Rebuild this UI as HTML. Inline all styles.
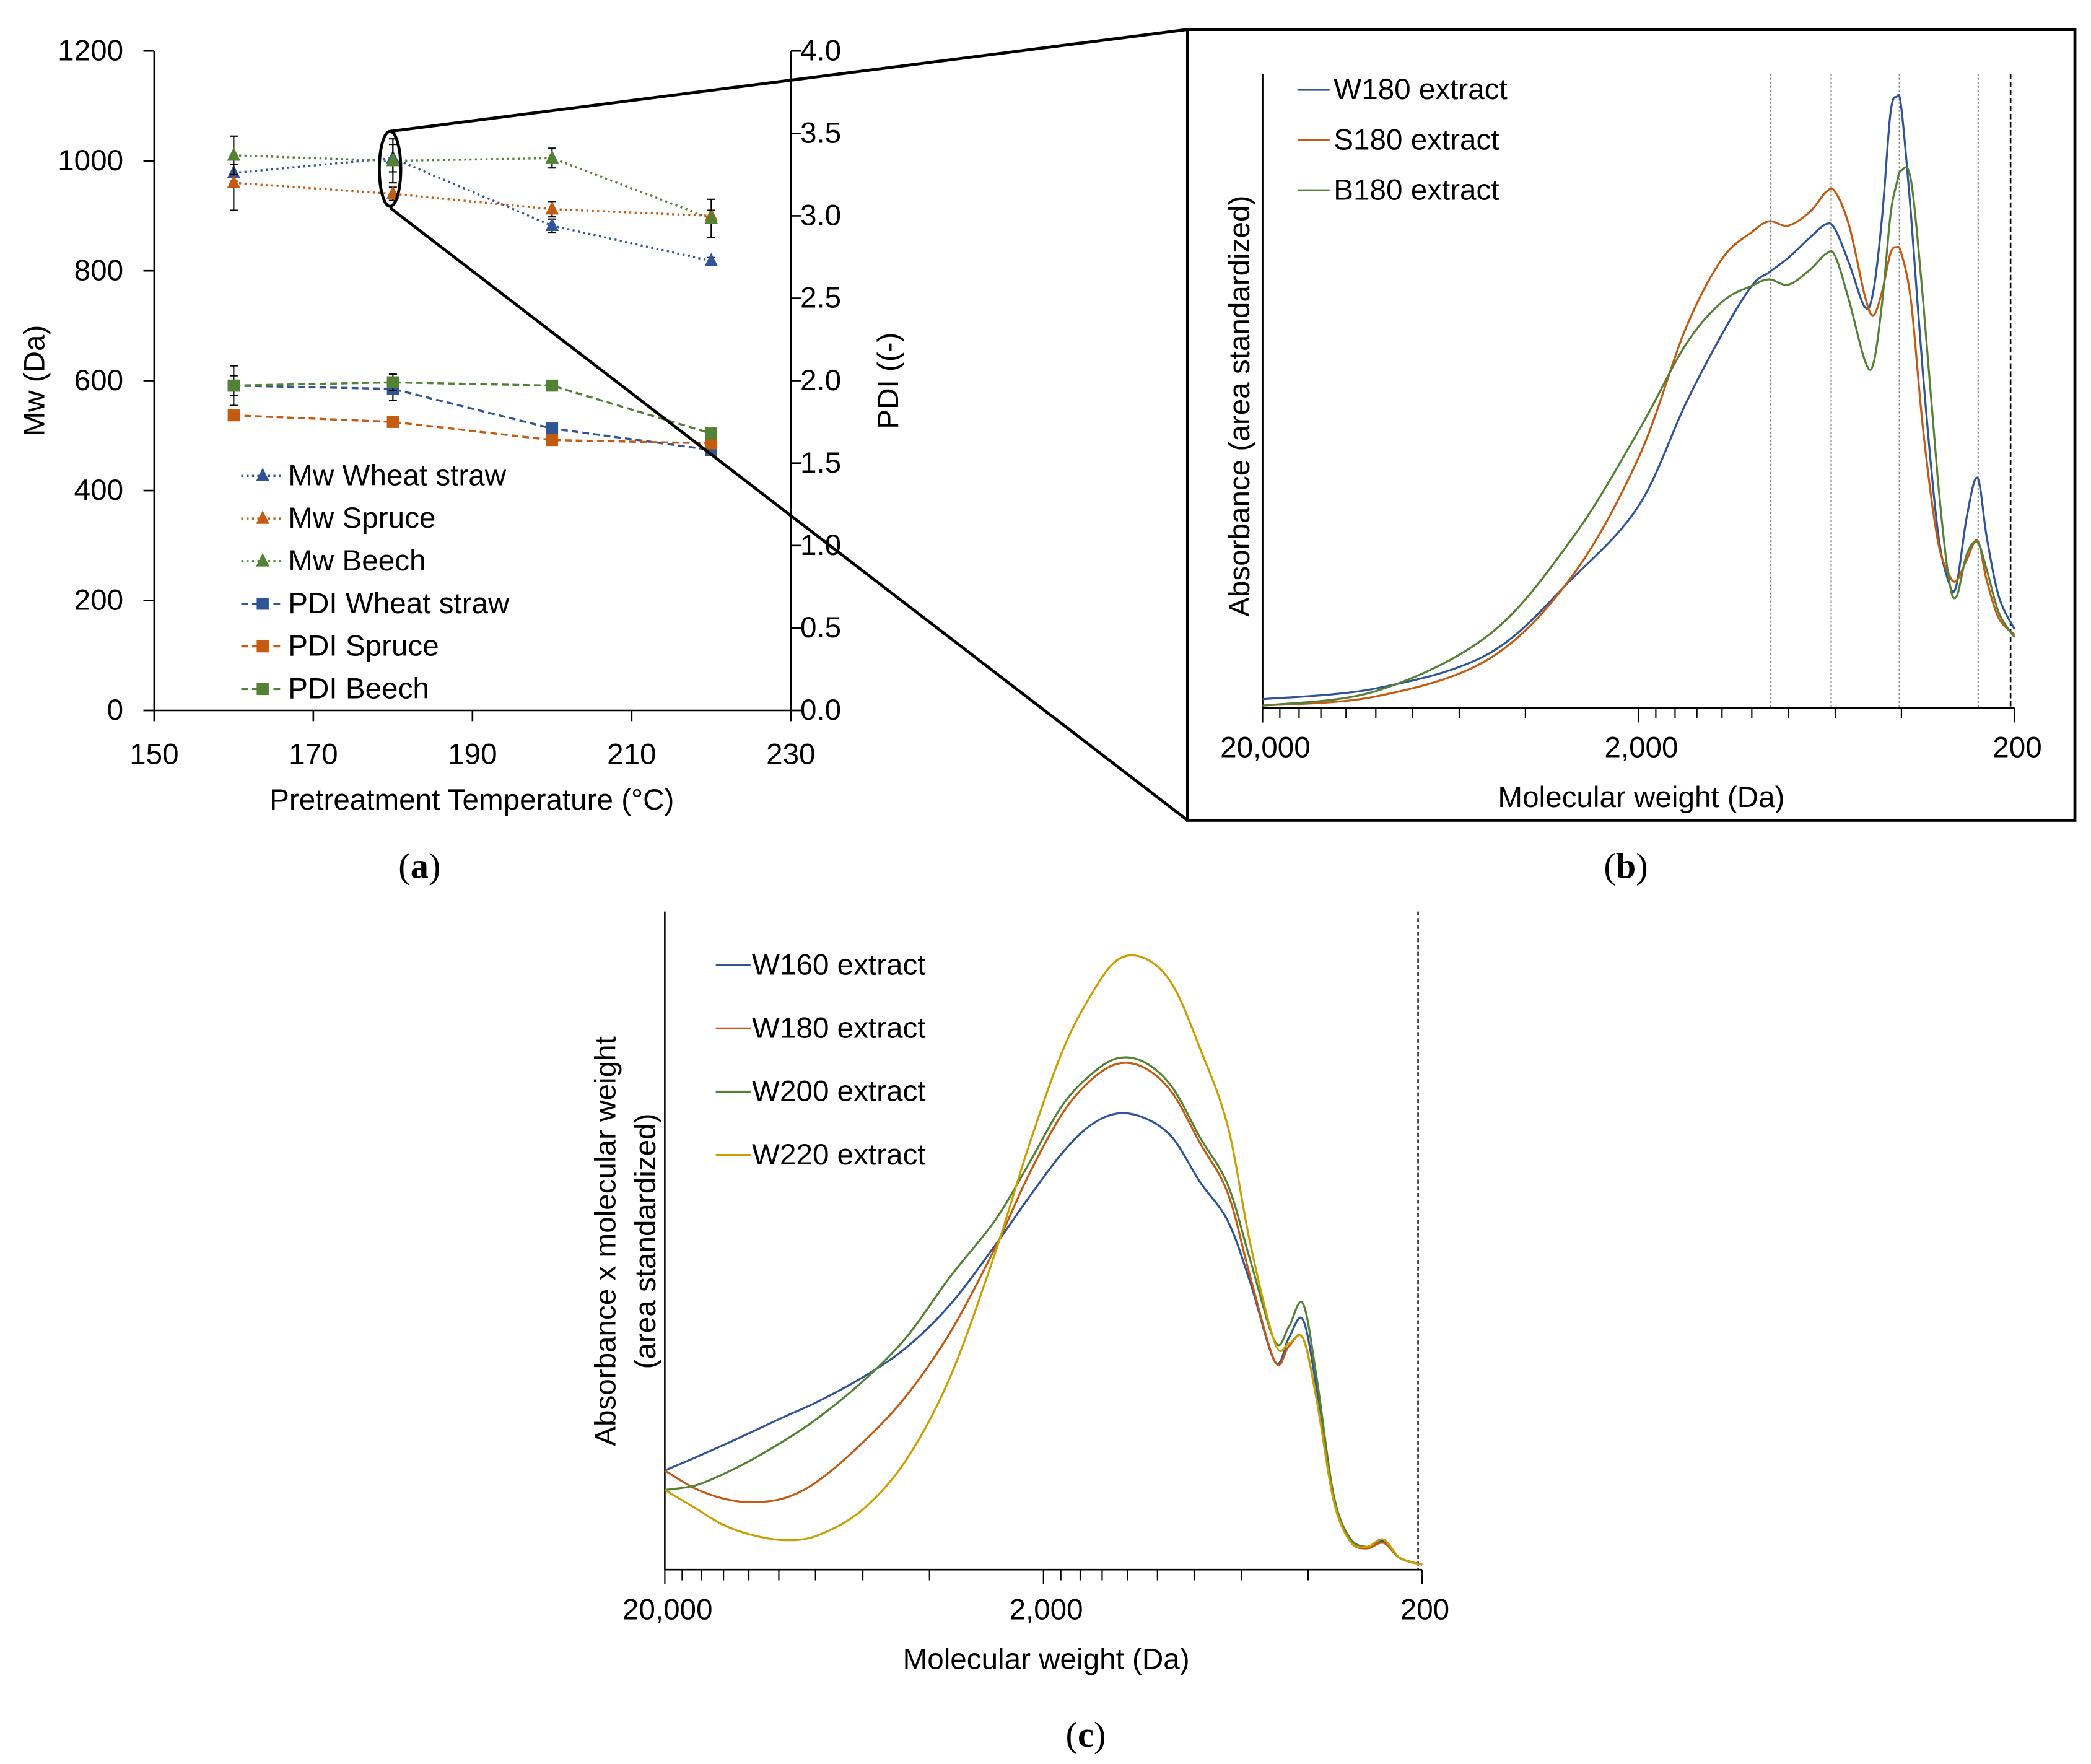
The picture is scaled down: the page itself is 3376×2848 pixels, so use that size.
<!DOCTYPE html>
<html><head><meta charset="utf-8"><style>
html,body{margin:0;padding:0;background:#fff;}
svg{display:block;font-family:"Liberation Sans","DejaVu Sans",sans-serif;}
</style></head><body>
<svg id="fig" xmlns="http://www.w3.org/2000/svg" width="3376" height="2848" viewBox="0 0 1560 1316" preserveAspectRatio="none">
<rect x="0" y="0" width="1560" height="1316" fill="#fff"/>
<g id="pa"></g>
<g id="pb"></g>
<g id="pc"></g>
</svg>
<script>
// ---------- Panel (a) data ----------
const tempA = [160, 180, 200, 220];
const mwWheat = [978, 1005, 882, 818];
const mwSpruce = [960, 940, 912, 900];
const mwBeech = [1010, 1000, 1005, 895];
const mwWheatErr = [15, 25, 12, 6];
const mwSpruceErr = [50, 12, 14, 10];
const mwBeechErr = [35, 40, 18, 35];
const pdiWheat = [1.97, 1.95, 1.71, 1.58];
const pdiSpruce = [1.79, 1.75, 1.64, 1.62];
const pdiBeech = [1.97, 1.99, 1.97, 1.68];
const pdiWheatErr = [0.06, 0.07, 0.03, 0.03];
const pdiSpruceErr = [0.03, 0.02, 0.03, 0.03];
const pdiBeechErr = [0.12, 0.05, 0.03, 0.02];
const mwTicks = [0, 200, 400, 600, 800, 1000, 1200];
const pdiTicks = ["0.0","0.5","1.0","1.5","2.0","2.5","3.0","3.5","4.0"];
const tempTicks = [150, 170, 190, 210, 230];

// ---------- Panel (b) data ----------
const mwB = [20000,10000,5000,3000,2000,1500,1200,1000,900,800,700,634,600,550,500,475,450,428,412,400,377,350,321,300,286,268,251,237,220,200];
const absW180 = [16,36,101,241,376,566,696,786,811,838,876,901,891,826,746,776,916,1106,1138,1116,916,616,336,236,226,356,428,316,206,146];
const absS180 = [4,21,91,246,466,706,836,886,906,898,924,961,961,896,766,731,776,846,858,846,756,516,316,251,236,276,311,236,166,136];
const absB180 = [4,31,136,316,516,676,756,786,798,788,816,846,841,756,646,641,756,916,976,1001,981,756,436,246,206,286,308,256,176,131];
const refLinesB = [890, 615, 405, 250];
const cutoffMW = 205;

// ---------- Panel (c) data ----------
const mwC = [20000,16670,14080,11890,9710,7930,6050,4620,3527,2692,2198,1795,1516,1281,1082,914,772,652,569,489,450,413,380,343,310,280,253,229,200];
const amW160 = [178,201,223,246,274,301,344,398,476,581,666,746,796,819,811,776,696,626,516,373,416,449,326,126,56,41,51,21,9];
const amW180 = [178,146,128,121,128,158,226,311,426,576,706,816,876,908,901,856,766,676,526,373,401,416,306,126,51,38,48,21,9];
const amW200 = [143,151,171,196,231,271,336,416,526,626,726,831,886,918,911,866,776,691,556,409,436,478,346,136,56,41,54,21,9];
const amW220 = [143,111,81,63,53,61,106,196,346,566,756,926,1026,1094,1098,1051,936,796,586,406,406,416,306,126,51,41,54,21,9];
const logTickMW = [20000,18000,16000,14000,12000,10000,8000,6000,4000,2000,1800,1600,1400,1200,1000,800,600,400,200];
const xTickLabels = ["20,000","2,000","200"];
const xTickLabelMW = [20000,2000,200];

const NS = "http://www.w3.org/2000/svg";
const FS = 22;
function mk(parent, tag, attrs, text){
  const e = document.createElementNS(NS, tag);
  for (const k in attrs) e.setAttribute(k, attrs[k]);
  if (text !== undefined) e.textContent = text;
  parent.appendChild(e);
  return e;
}
function smoothPath(pts){
  let d = "M" + pts[0][0].toFixed(2) + "," + pts[0][1].toFixed(2);
  for (let i = 0; i < pts.length - 1; i++){
    const p0 = pts[Math.max(0,i-1)], p1 = pts[i], p2 = pts[i+1], p3 = pts[Math.min(pts.length-1,i+2)];
    const c1x = p1[0] + (p2[0]-p0[0])/6, c1y = p1[1] + (p2[1]-p0[1])/6;
    const c2x = p2[0] - (p3[0]-p1[0])/6, c2y = p2[1] - (p3[1]-p1[1])/6;
    d += " C" + c1x.toFixed(2)+","+c1y.toFixed(2)+" "+c2x.toFixed(2)+","+c2y.toFixed(2)+" "+p2[0].toFixed(2)+","+p2[1].toFixed(2);
  }
  return d;
}
const BLUE="#2F5597", ORANGE="#C55A11", GREEN="#538135", GOLD="#C9A000";

// ================= Panel A =================
(function(){
  const g = document.getElementById('pa');
  const X0=115, X1=590, Y0=530, Y1=38;
  const xs = t => X0 + (t-150)/(230-150)*(X1-X0);
  const ys = v => Y0 - v/1200*(Y0-Y1);
  const yp = v => Y0 - v/4*(Y0-Y1);
  let e;
  e = mk(g,'line',{x1:X0,y1:Y1,x2:X0,y2:Y0,stroke:'#000','stroke-width':1.2});
   
  e = mk(g,'line',{x1:X1,y1:Y1,x2:X1,y2:Y0,stroke:'#000','stroke-width':1.2});
   
  e = mk(g,'line',{x1:X0-8,y1:Y0,x2:X1+8,y2:Y0,stroke:'#000','stroke-width':1.2});
   
  mwTicks.forEach(v=>{
    mk(g,'line',{x1:X0-8,y1:ys(v),x2:X0,y2:ys(v),stroke:'#000','stroke-width':1.2});
    e = mk(g,'text',{x:92,y:ys(v)+7,'text-anchor':'end','font-size':FS},String(v));
     
  });
  pdiTicks.forEach(v=>{
    const n = parseFloat(v);
    mk(g,'line',{x1:X1,y1:yp(n),x2:X1+8,y2:yp(n),stroke:'#000','stroke-width':1.2});
    e = mk(g,'text',{x:597,y:yp(n)+7,'font-size':FS},v);
     
  });
  tempTicks.forEach(t=>{
    mk(g,'line',{x1:xs(t),y1:Y0,x2:xs(t),y2:Y0+8,stroke:'#000','stroke-width':1.2});
    e = mk(g,'text',{x:xs(t),y:570,'text-anchor':'middle','font-size':FS},String(t));
     
  });
  e = mk(g,'text',{x:352,y:604,'text-anchor':'middle','font-size':FS},'Pretreatment Temperature (°C)');
   
  e = mk(g,'text',{x:0,y:0,'text-anchor':'middle','font-size':FS,transform:'translate(33,284) rotate(-90)'},'Mw (Da)');
   
  e = mk(g,'text',{x:0,y:0,'text-anchor':'middle','font-size':FS,transform:'translate(670,284) rotate(-90)'},'PDI ((-)');
   
  e = mk(g,'text',{x:313,y:655,'text-anchor':'middle','font-size':27,'font-family':'Liberation Serif, serif'},'');
  e.innerHTML = '(<tspan font-weight="bold">a</tspan>)';
   

  const series = [
    {name:'Mw Wheat straw', vals:mwWheat, err:mwWheatErr, col:BLUE, tri:true},
    {name:'Mw Spruce', vals:mwSpruce, err:mwSpruceErr, col:ORANGE, tri:true},
    {name:'Mw Beech', vals:mwBeech, err:mwBeechErr, col:GREEN, tri:true},
    {name:'PDI Wheat straw', vals:pdiWheat, err:pdiWheatErr, col:BLUE, tri:false},
    {name:'PDI Spruce', vals:pdiSpruce, err:pdiSpruceErr, col:ORANGE, tri:false},
    {name:'PDI Beech', vals:pdiBeech, err:pdiBeechErr, col:GREEN, tri:false}
  ];
  function marker(parent,x,y,s){
    if (s.tri) return mk(parent,'polygon',{points:`${x},${y-6} ${x-5},${y+4} ${x+5},${y+4}`,fill:s.col});
    return mk(parent,'rect',{x:x-4.5,y:y-4.5,width:9,height:9,fill:s.col});
  }
  series.forEach((s,si)=>{
    const sg = mk(g,'g',{});
    
    
    const yf = s.tri ? ys : yp;
    const pts = tempA.map((t,i)=>[xs(t), yf(s.vals[i])]);
    mk(sg,'polyline',{points:pts.map(p=>p.join(',')).join(' '),fill:'none',stroke:s.col,'stroke-width':1.6,'stroke-dasharray':s.tri?'1.5 2.5':'5 3'});
    tempA.forEach((t,i)=>{
      const x = xs(t), yt = yf(s.vals[i]+s.err[i]), yb = yf(s.vals[i]-s.err[i]);
      mk(sg,'line',{x1:x,y1:yt,x2:x,y2:yb,stroke:'#000','stroke-width':1});
      mk(sg,'line',{x1:x-3,y1:yt,x2:x+3,y2:yt,stroke:'#000','stroke-width':1});
      mk(sg,'line',{x1:x-3,y1:yb,x2:x+3,y2:yb,stroke:'#000','stroke-width':1});
    });
    tempA.forEach((t,i)=>{
      const m = marker(sg, xs(t), yf(s.vals[i]), s);
       
    });
    const ly = 355 + si*31.8;
    const lg = mk(g,'g',{});
     
    mk(lg,'line',{x1:180,y1:ly,x2:212,y2:ly,stroke:s.col,'stroke-width':1.6,'stroke-dasharray':s.tri?'1.5 2.5':'5 3'});
    marker(lg,196,ly,s);
    mk(lg,'text',{x:215,y:ly+7,'font-size':FS},s.name);
  });
  e = mk(g,'ellipse',{cx:291,cy:126,rx:8,ry:28,fill:'none',stroke:'#000','stroke-width':2.2});
   
  mk(g,'line',{x1:291,y1:98,x2:886,y2:22,stroke:'#000','stroke-width':2.2});
  mk(g,'line',{x1:291,y1:155,x2:886,y2:612,stroke:'#000','stroke-width':2.2});
})();

// ================= log-axis helper =================
function logPanel(g, cfg){
  const xs = mw => cfg.X0 + (Math.log10(20000)-Math.log10(mw))/2*(cfg.X1-cfg.X0);
  const ys = v => cfg.Y0 - v/cfg.vmax*(cfg.Y0-cfg.Ytop);
  let e;
  e = mk(g,'line',{x1:cfg.X0,y1:cfg.Yax,x2:cfg.X0,y2:cfg.Y0,stroke:'#000','stroke-width':1.2});
   
  e = mk(g,'line',{x1:cfg.X0,y1:cfg.Y0,x2:cfg.X1,y2:cfg.Y0,stroke:'#000','stroke-width':1.2});
   
  logTickMW.forEach(m=>{
    const big = (m===20000||m===2000||m===200);
    mk(g,'line',{x1:xs(m),y1:cfg.Y0,x2:xs(m),y2:cfg.Y0+(big?11:8),stroke:'#000','stroke-width':1});
  });
  xTickLabels.forEach((l,i)=>{
    e = mk(g,'text',{x:xs(xTickLabelMW[i])+2,y:cfg.Y0+37,'text-anchor':'middle','font-size':FS},l);
     
  });
  e = mk(g,'text',{x:(cfg.X0+cfg.X1)/2+2,y:cfg.Y0+74,'text-anchor':'middle','font-size':FS},'Molecular weight (Da)');
   
  return {xs, ys};
}

// ================= Panel B =================
(function(){
  const g = document.getElementById('pb');
  let e = mk(g,'rect',{x:886,y:22,width:662,height:590,fill:'none',stroke:'#000','stroke-width':2.2});
   
  const cfg = {X0:942,X1:1503,Y0:528,Ytop:55,Yax:55,vmax:1181};
  const {xs, ys} = logPanel(g,cfg);
  refLinesB.forEach(m=>{
    e = mk(g,'line',{x1:xs(m),y1:55,x2:xs(m),y2:528,stroke:'#888','stroke-width':1,'stroke-dasharray':'1.5 1.5'});
     
  });
  e = mk(g,'line',{x1:xs(cutoffMW),y1:55,x2:xs(cutoffMW),y2:528,stroke:'#000','stroke-width':1.2,'stroke-dasharray':'4 2'});
   
  const ser = [
    {n:'W180 extract',v:absW180,c:BLUE},
    {n:'S180 extract',v:absS180,c:ORANGE},
    {n:'B180 extract',v:absB180,c:GREEN}
  ];
  ser.forEach((s,i)=>{
    const pts = mwB.map((m,j)=>[xs(m), ys(s.v[j])]);
    e = mk(g,'path',{d:smoothPath(pts),fill:'none',stroke:s.c,'stroke-width':1.5});
     
    const ly = 67 + i*37.5;
    const lg = mk(g,'g',{});
     
    mk(lg,'line',{x1:968,y1:ly,x2:992,y2:ly,stroke:s.c,'stroke-width':1.5});
    mk(lg,'text',{x:995,y:ly+7,'font-size':FS},s.n);
  });
  e = mk(g,'text',{x:0,y:0,'text-anchor':'middle','font-size':FS,transform:'translate(932,303) rotate(-90)'},'Absorbance (area standardized)');
   
  e = mk(g,'text',{x:1213,y:655,'text-anchor':'middle','font-size':27,'font-family':'Liberation Serif, serif'},'');
  e.innerHTML = '(<tspan font-weight="bold">b</tspan>)';
   
})();

// ================= Panel C =================
(function(){
  const g = document.getElementById('pc');
  const cfg = {X0:496,X1:1061,Y0:1171,Ytop:711.5,Yax:680,vmax:1106};
  const {xs, ys} = logPanel(g,cfg);
  let e = mk(g,'line',{x1:xs(cutoffMW),y1:680,x2:xs(cutoffMW),y2:1171,stroke:'#000','stroke-width':1.1,'stroke-dasharray':'3 2'});
   
  const ser = [
    {n:'W160 extract',v:amW160,c:BLUE},
    {n:'W180 extract',v:amW180,c:ORANGE},
    {n:'W200 extract',v:amW200,c:GREEN},
    {n:'W220 extract',v:amW220,c:GOLD}
  ];
  ser.forEach((s,i)=>{
    const pts = mwC.map((m,j)=>[xs(m), ys(s.v[j])]);
    e = mk(g,'path',{d:smoothPath(pts),fill:'none',stroke:s.c,'stroke-width':1.5});
     
    const ly = 720 + i*47.2;
    const lg = mk(g,'g',{});
     
    mk(lg,'line',{x1:534,y1:ly,x2:560,y2:ly,stroke:s.c,'stroke-width':1.5});
    mk(lg,'text',{x:561,y:ly+7,'font-size':FS},s.n);
  });
  e = mk(g,'text',{x:0,y:0,'text-anchor':'middle','font-size':FS,transform:'translate(459,926) rotate(-90)'},'Absorbance x molecular weight');
   
  e = mk(g,'text',{x:0,y:0,'text-anchor':'middle','font-size':FS,transform:'translate(489,926) rotate(-90)'},'(area standardized)');
   
  e = mk(g,'text',{x:810,y:1303,'text-anchor':'middle','font-size':27,'font-family':'Liberation Serif, serif'},'');
  e.innerHTML = '(<tspan font-weight="bold">c</tspan>)';
   
})();
</script>
</body></html>
